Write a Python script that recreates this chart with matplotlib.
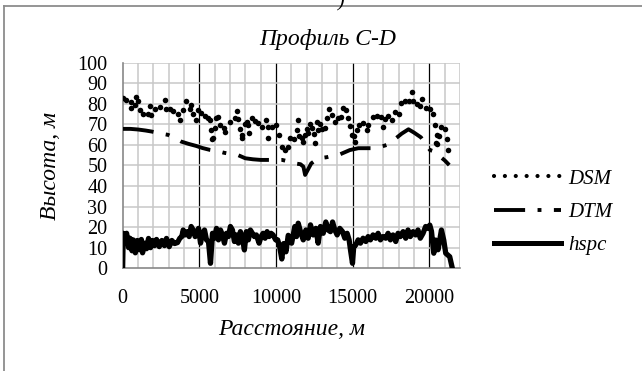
import matplotlib
matplotlib.use("Agg")
import matplotlib.pyplot as plt
from matplotlib.lines import Line2D

# distance along profile, m / height, m
dsm_x = [0, 240, 520, 560, 780, 890, 1000, 1110, 1320, 1650,
         1760, 1870, 2080, 2410, 2740, 2850, 3060, 3280, 3600, 3710,
         3930, 4150, 4370, 4480, 4580, 4800, 4910, 5130, 5390, 5560,
         5680, 5780, 5850, 5910, 6000, 6100, 6210, 6320, 6610, 6650,
         6980, 7300, 7430, 7500, 7650, 7760, 7800, 7970, 8080, 8190,
         8230, 8410, 8620, 8840, 9060, 9320, 9450, 9500, 9710, 9980,
         10200, 10370, 10580, 10760, 10910, 11190, 11340, 11450, 11500, 11670,
         11780, 11890, 12000, 12100, 12210, 12370, 12500, 12540, 12650, 12760,
         12870, 13020, 13190, 13300, 13450, 13670, 13840, 14060, 14230, 14390,
         14540, 14710, 14820, 14930, 15080, 15150, 15260, 15430, 15650, 15910,
         16020, 16340, 16560, 16820, 16990, 17100, 17320, 17540, 17750, 18040,
         18130, 18410, 18690, 18840, 18950, 19170, 19390, 19540, 19780, 20040,
         20210, 20360, 20430, 20470, 20520, 20640, 20790, 21010, 21170, 21230]
dsm_y = [83.0, 81.9, 78.1, 81.0, 79.4, 83.5, 81.4, 77.0, 74.9, 74.9,
         79.1, 74.6, 77.5, 78.5, 81.9, 77.5, 77.5, 76.5, 74.9, 72.1,
         77.0, 81.4, 77.5, 79.4, 74.9, 72.1, 77.0, 75.4, 74.3, 72.9,
         72.1, 67.3, 62.7, 63.5, 68.4, 73.3, 73.7, 69.7, 68.4, 66.4,
         71.0, 72.9, 76.5, 72.4, 67.7, 63.5, 64.8, 70.0, 71.0, 69.6,
         65.7, 73.3, 71.6, 70.5, 68.9, 72.3, 68.9, 63.5, 68.9, 69.7,
         64.8, 59.2, 57.5, 59.2, 63.5, 62.9, 67.3, 72.1, 64.5, 63.2,
         61.3, 64.8, 67.7, 65.7, 70.0, 68.4, 65.2, 60.8, 71.3, 67.3,
         70.0, 67.7, 68.0, 72.9, 77.4, 74.5, 71.0, 72.9, 73.7, 78.1,
         77.0, 73.3, 69.3, 65.0, 64.3, 61.6, 67.3, 69.7, 70.9, 67.3,
         69.7, 73.4, 74.1, 73.4, 68.9, 72.5, 74.1, 72.2, 76.2, 75.1,
         80.2, 81.5, 81.5, 85.9, 81.5, 79.9, 78.9, 82.2, 77.8, 77.3,
         75.1, 69.7, 61.1, 64.8, 60.4, 64.3, 68.9, 67.6, 62.7, 57.5]

dtm_x = [0, 500, 1000, 1500, 1900, 2500, 2960, 3500, 3830, 4300,
         4800, 5200, 5680, 6200, 6600, 7100, 7540, 8000, 8500, 9000,
         9400, 9900, 10400, 10800, 11230, 11600, 11790, 11900, 12300, 12760,
         13300, 13730, 14200, 14820, 15370, 15800, 16340, 16800, 17230, 17700,
         18200, 18640, 19000, 19450, 20040, 20370, 20580, 21000, 21300]
dtm_y = [67.8, 67.8, 67.5, 67.0, 66.5, 65.5, 64.9, 63.0, 61.6, 60.5,
         59.5, 58.5, 57.6, 57.0, 56.2, 55.5, 55.0, 53.5, 53.0, 52.7,
         52.7, 52.7, 52.7, 52.0, 51.0, 50.6, 49.4, 45.4, 51.0, 53.5,
         54.0, 54.8, 55.5, 57.5, 58.4, 58.4, 58.4, 59.0, 60.0, 62.5,
         65.5, 67.6, 66.0, 63.7, 57.5, 56.7, 55.1, 52.5, 50.2]

hspc_x = [0, 40, 170, 260, 390, 480, 610, 690, 830, 960,
          1090, 1220, 1300, 1430, 1560, 1690, 1820, 1950, 2080, 2210,
          2390, 2560, 2730, 2860, 3040, 3210, 3390, 3580, 3730, 3860,
          3950, 4080, 4210, 4340, 4470, 4600, 4730, 4820, 4950, 5080,
          5210, 5340, 5470, 5600, 5730, 5860, 5990, 6120, 6250, 6380,
          6510, 6640, 6770, 6900, 7030, 7160, 7290, 7420, 7550, 7680,
          7810, 7940, 8070, 8200, 8330, 8460, 8590, 8720, 8900, 9030,
          9160, 9290, 9420, 9550, 9680, 9810, 9980, 10110, 10240, 10380,
          10500, 10650, 10800, 11020, 11230, 11340, 11450, 11600, 11780, 11950,
          12100, 12250, 12430, 12600, 12750, 12900, 13080, 13250, 13400, 13550,
          13690, 13840, 13990, 14160, 14340, 14490, 14640, 14770, 14860, 14990,
          15070, 15200, 15360, 15510, 15680, 15860, 16010, 16160, 16330, 16510,
          16660, 16810, 16980, 17160, 17310, 17460, 17630, 17810, 17960, 18110,
          18290, 18460, 18610, 18760, 18940, 19110, 19260, 19410, 19590, 19760,
          19910, 20030, 20140, 20290, 20420, 20570, 20790, 20940, 21070, 21330,
          21500]
hspc_y = [0, 17, 14.5, 17, 10, 14.6, 8.5, 13.8, 7.5, 13.5,
          9, 14, 7.5, 12.2, 9.5, 14.5, 10, 13.5, 11, 14,
          10.5, 13.5, 11, 14.5, 10.5, 13.5, 12, 12.5, 14.6, 15.4,
          18.6, 16.2, 17.8, 15.4, 20.3, 18.6, 15.4, 17, 19.4, 12.2,
          17, 18.6, 13.8, 13, 2.4, 17, 14.6, 19.4, 13.8, 18.6,
          16.2, 12.2, 17, 15.4, 20.3, 18.6, 13, 16.2, 12.2, 17.8,
          14.6, 8.9, 17.8, 13.8, 18.6, 17, 15.4, 16.2, 12.2, 15.4,
          17, 14.6, 17.8, 15.4, 17, 16.2, 13.8, 13.8, 10.5, 4.5,
          12, 8, 16, 12.2, 20.3, 15.4, 21.9, 17.8, 13.8, 18.6,
          14.6, 21.1, 16.2, 19.4, 12.2, 20.3, 17, 22.5, 18.6, 17.8,
          22.5, 18.6, 16.2, 19.4, 17.8, 14.6, 17, 13.8, 8.9, 2.4,
          10.5, 11.3, 13.8, 12.2, 14.6, 13, 15.4, 13.8, 16.2, 14.6,
          17, 13.8, 15.4, 14.6, 17, 13.8, 16.2, 13, 17, 15.4,
          17.8, 14.6, 18.6, 15.4, 17.8, 16.2, 18.6, 14.6, 17, 20.3,
          19.4, 21, 18, 7.3, 13.7, 9, 18.6, 13.7, 7.3, 5.6,
          0]

x_ticks = [0, 5000, 10000, 15000, 20000]
y_ticks = list(range(0, 101, 10))

plt.rcParams['font.family'] = ['Liberation Serif', 'DejaVu Serif']
fs = 14.5    # tick labels, legend
fs_lab = 17  # title, axis labels

fig = plt.figure(figsize=(6.42, 3.71), dpi=100)
ax = fig.add_axes([0.191, 0.277, 0.5255, 0.554])

# grid: grey every 1000 m / 10 m, black every 5000 m
for xv in range(1000, 22001, 1000):
    ax.axvline(xv, color='black' if xv % 5000 == 0 else '#c8c8c8',
               lw=0.9 if xv % 5000 == 0 else 1.1, zorder=0)
for yv in y_ticks[1:]:
    ax.axhline(yv, color='#c8c8c8', lw=1.1, zorder=0)

ax.plot(dsm_x, dsm_y, 'o', color='black', ms=4.0, mec='none', zorder=3)
ax.plot(dtm_x, dtm_y, color='black', lw=2.8, zorder=3,
        dashes=(8, 3.2, 1, 3.2), solid_capstyle='butt')
ax.plot(hspc_x, hspc_y, color='black', lw=3.8, zorder=3,
        solid_joinstyle='round')

ax.set_xlim(0, 22000)
ax.set_ylim(0, 100)
ax.set_xticks(x_ticks)
ax.set_yticks(y_ticks)
ax.tick_params(length=0, labelsize=fs)
ax.tick_params(axis='x', pad=15)
ax.tick_params(axis='y', pad=11)
for s in ['top', 'right']:
    ax.spines[s].set_visible(False)
for s in ['left', 'bottom']:
    ax.spines[s].set_color('#888888')
    ax.spines[s].set_linewidth(1.2)

ax.set_xlabel('Расстояние, м', fontsize=fs_lab, style='italic', labelpad=8)
ax.set_ylabel('Высота, м', fontsize=fs_lab, style='italic', labelpad=12)
fig.text(328 / 642, 1 - 40 / 371, 'Профиль C-D', fontsize=fs_lab,
         style='italic', ha='center', va='center')

handles = [
    Line2D([], [], color='black', lw=3, dashes=(0.01, 2.6),
           dash_capstyle='round'),
    Line2D([], [], color='black', lw=2.8, dashes=(8, 3.2, 1, 3.2)),
    Line2D([], [], color='black', lw=3.6),
]
fig.legend(handles, ['DSM', 'DTM', 'hspc'], loc='center left',
           bbox_to_anchor=(494 / 642, 1 - 212 / 371), frameon=False,
           prop={'style': 'italic', 'size': fs + 0.5},
           handlelength=3.2, handletextpad=0.35, labelspacing=0.65,
           borderpad=0, borderaxespad=0)

# frame of the chart area and cut-off caption above it
fig.add_artist(Line2D([4 / 642, 4 / 642], [0, 1 - 6 / 371],
                      color='#8c8c8c', lw=1.3))
fig.add_artist(Line2D([4 / 642, 1], [1 - 6 / 371, 1 - 6 / 371],
                      color='#8c8c8c', lw=1.3))
fig.text(341 / 642, 0.995, ')', fontsize=fs, style='italic',
         ha='center', va='center')

fig.savefig('out.png', dpi=100)
